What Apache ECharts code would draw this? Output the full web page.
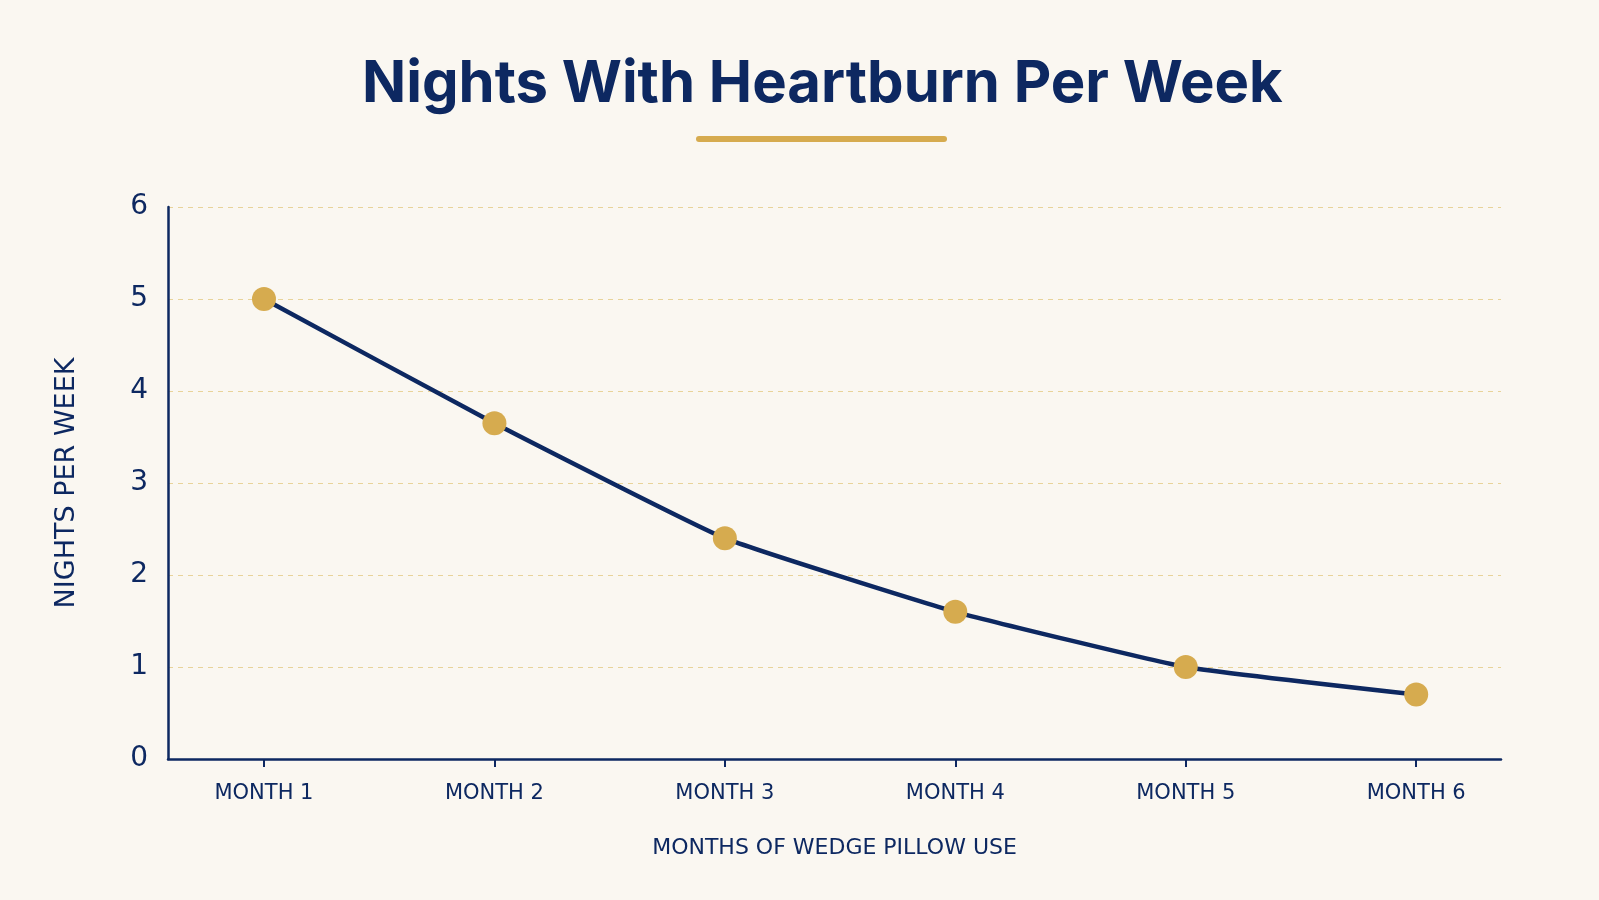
<!DOCTYPE html>
<html>
<head>
<meta charset="utf-8">
<script src="https://cdn.jsdelivr.net/npm/echarts@6/dist/echarts.min.js"></script>
<style>
  html, body { margin: 0; padding: 0; background: #faf7f1; }
  #chart { width: 1599px; height: 900px; }
</style>
</head>
<body>
<div id="chart"></div>
<script>
var months = ['MONTH 1', 'MONTH 2', 'MONTH 3', 'MONTH 4', 'MONTH 5', 'MONTH 6'];
var nights = [5, 3.65, 2.4, 1.6, 1.0, 0.7];
var yTicks = [0, 1, 2, 3, 4, 5, 6];

var navy = '#0d2861',
  gold = '#d6ab4f',
  labelFont = '"DejaVu Sans", sans-serif';

function initLine(dom) {
  var myChart = echarts.init(dom),
    positions = months.map((m, i) => i + 1),
    option = {
      backgroundColor: '#faf7f1',
      textStyle: { fontFamily: labelFont },
      title: {
        text: 'Nights With Heartburn Per Week',
        left: 357,
        top: 51,
        textStyle: {
          color: navy,
          fontSize: 58,
          fontWeight: 'bold',
          fontFamily: 'Inter, Lato, sans-serif'
        }
      },
      graphic: [{
        type: 'rect',
        left: 696,
        top: 136,
        shape: { width: 251, height: 6, r: 3 },
        style: { fill: gold }
      }],
      grid: {
        left: 168,
        right: 98,
        top: 207,
        bottom: 141
      },
      xAxis: {
        type: 'value',
        min: 0.5835,
        max: 6.368,
        name: 'MONTHS OF WEDGE PILLOW USE',
        nameLocation: 'middle',
        nameGap: 78,
        nameTextStyle: { color: navy, fontSize: 22, fontFamily: labelFont },
        axisLine: { show: true, lineStyle: { color: navy, width: 2.5 } },
        axisTick: {
          show: true,
          customValues: positions,
          length: 8,
          lineStyle: { color: navy, width: 2 }
        },
        axisLabel: {
          customValues: positions,
          color: navy,
          fontSize: 21,
          margin: 24,
          fontFamily: labelFont,
          formatter: function (v) { return months[Math.round(v) - 1]; }
        },
        splitLine: { show: false }
      },
      yAxis: {
        type: 'value',
        min: yTicks[0],
        max: yTicks[yTicks.length - 1],
        interval: 1,
        name: 'NIGHTS PER WEEK',
        nameLocation: 'middle',
        nameGap: 88,
        nameTextStyle: { color: navy, fontSize: 27, fontFamily: labelFont },
        axisLine: { show: true, lineStyle: { color: navy, width: 2.5 } },
        axisTick: { show: false },
        axisLabel: { color: navy, fontSize: 28, margin: 20, fontFamily: labelFont },
        splitLine: {
          show: true,
          lineStyle: { color: '#e8d39a', type: [5, 5], width: 1 }
        }
      },
      series: [{
        type: 'line',
        data: nights.map((v, i) => [positions[i], v]),
        smooth: 0.12,
        symbol: 'circle',
        symbolSize: 24,
        lineStyle: { color: navy, width: 4.5 },
        itemStyle: { color: gold },
        z: 3
      }]
    };
  myChart.setOption(option, true);
  window.addEventListener('resize', function () {
    myChart.resize();
  });
}

initLine(document.getElementById('chart'));
</script>
</body>
</html>
